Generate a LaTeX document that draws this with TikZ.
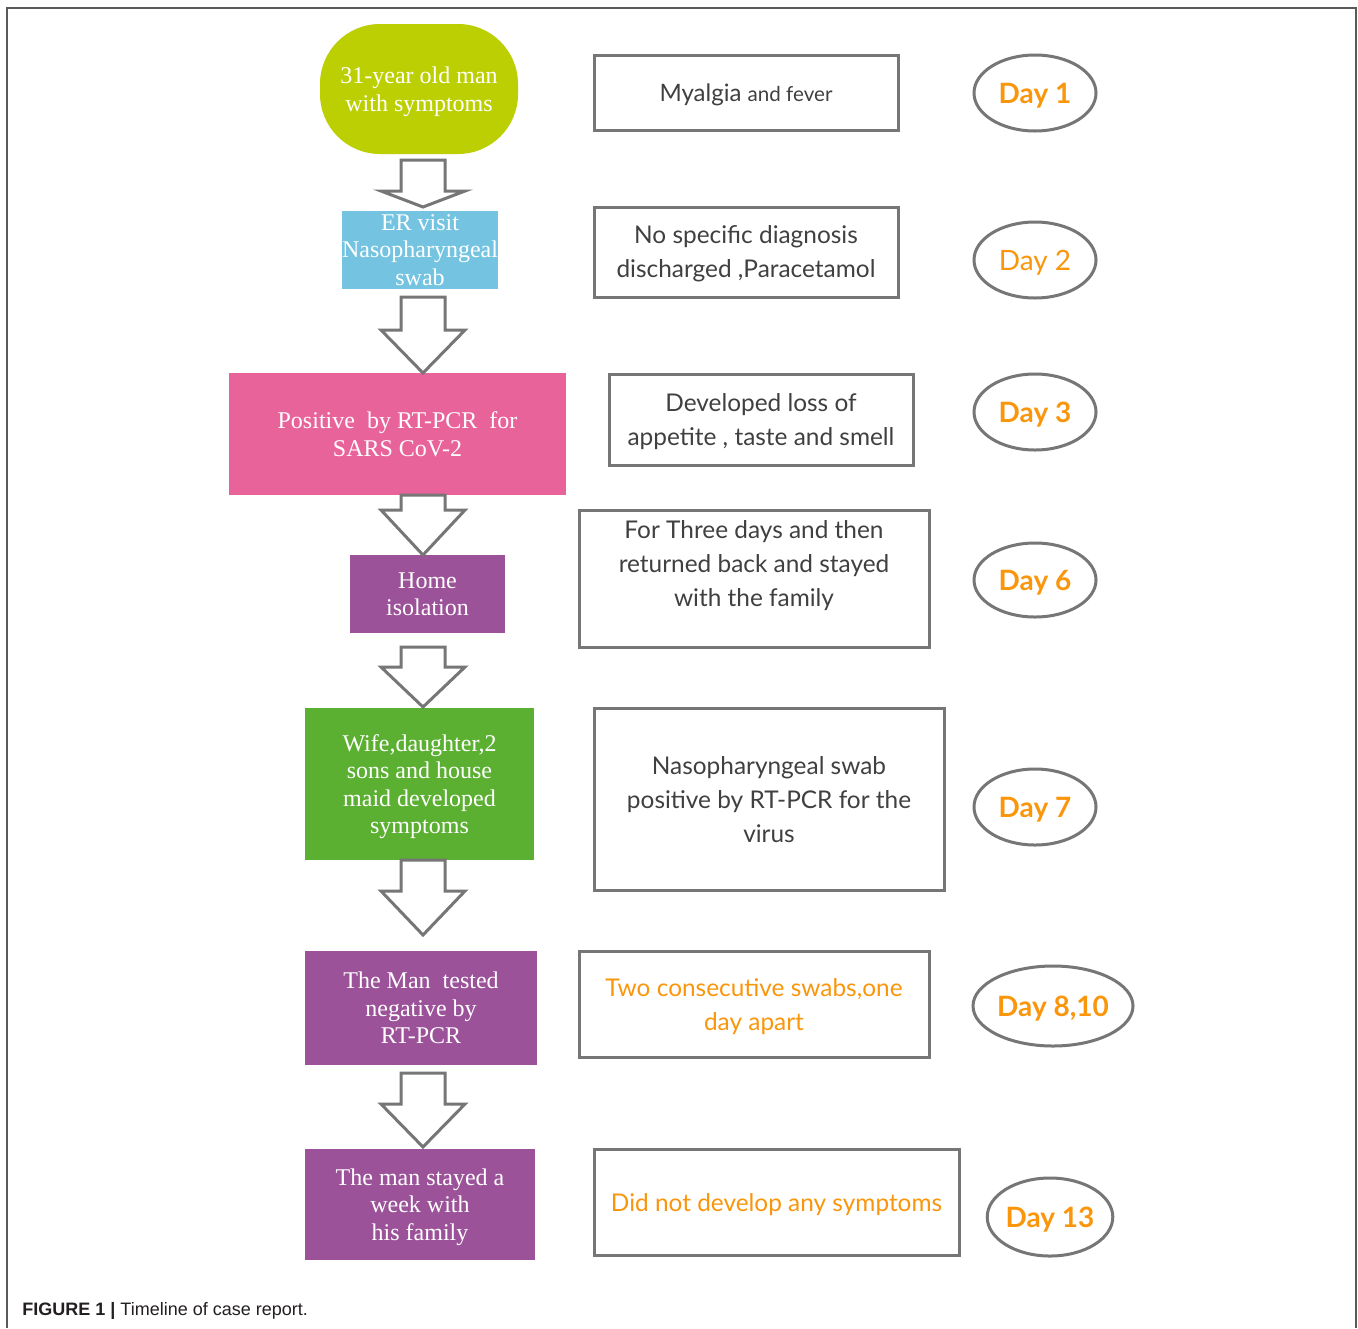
\documentclass[tikz,border=0pt]{standalone}
\usepackage{fontspec}
\setmainfont{Liberation Serif}
\newfontfamily\latof{Lato}
\newfontfamily\capf{Liberation Sans}
\usetikzlibrary{calc,shapes.geometric}
\definecolor{cLime}{RGB}{188,207,2}
\definecolor{cBlue}{RGB}{116,196,225}
\definecolor{cPink}{RGB}{233,99,155}
\definecolor{cPurple}{RGB}{155,82,153}
\definecolor{cGreen}{RGB}{91,176,50}
\definecolor{cOrange}{RGB}{250,150,12}
\definecolor{cBorder}{RGB}{118,118,118}
\definecolor{cText}{RGB}{64,64,64}
\definecolor{cFrame}{RGB}{90,90,90}
\definecolor{cCap}{RGB}{35,31,32}
% block arrow: #1 from node, #2 top gap (pt), #3 to node, #4 tip gap (pt), #5 head length (pt)
\newcommand\blockarr[5]{%
  \draw[blockarrow] let \p1=(#1.south), \p2=(#3.north), \p3=(AX) in
    (\x3-11pt,\y1-#2) -- (\x3+11pt,\y1-#2) -- (\x3+11pt,\y2+#4+#5) --
    (\x3+21pt,\y2+#4+#5) -- (\x3,\y2+#4) -- (\x3-21pt,\y2+#4+#5) --
    (\x3-11pt,\y2+#4+#5) -- cycle;}
\begin{document}
\begin{tikzpicture}[x=0.5pt,y=-0.5pt,
  lbox/.style={rectangle, inner sep=0pt, outer sep=0pt, align=center, text=white,
    font=\fontsize{12pt}{13.75pt}\selectfont},
  lowtext/.style={text depth=0pt},
  rbox/.style={rectangle, draw=cBorder, line width=1.5pt, fill=white, inner sep=0pt,
    outer sep=0pt, align=center, text=cText, text depth=0pt,
    font=\latof\fontsize{12.2pt}{17pt}\selectfont},
  rtext/.style={inner sep=0pt, align=center, text=cText, font=\latof\fontsize{12.2pt}{17pt}\selectfont},
  dayell/.style={ellipse, draw=cBorder, line width=1.5pt, fill=white, inner sep=0pt,
    outer sep=0pt, text=cOrange, text depth=0pt,
    font=\latof\bfseries\fontsize{14pt}{16pt}\selectfont},
  blockarrow/.style={draw=cBorder, line width=1.5pt, fill=white, line join=miter},
  frameline/.style={draw=cFrame, line width=1pt}]
\useasboundingbox (0,0) rectangle (1358,1328);
\fill[white] (0,0) rectangle (1358,1328);
\draw[frameline] (7,1328) -- (7,8) -- (1356,8) -- (1356,1328);
\coordinate (AX) at (423,0);

% left flow
\node[lbox, lowtext, fill=cLime, rounded corners=30pt, minimum width=99pt, minimum height=65pt] (n1) at (419,89) {31-year old man\\with symptoms};
\node[lbox, fill=cBlue, minimum width=77pt, minimum height=39pt] (n2) at (420,250) {ER visit\\Nasopharyngeal\\swab};
\node[lbox, fill=cPink, minimum width=168.5pt, minimum height=61pt] (n3) at (397.5,434) {Positive\ \ by RT-PCR\ \ for\\SARS CoV-2};
\node[lbox, lowtext, fill=cPurple, minimum width=77.5pt, minimum height=39pt] (n4) at (427.5,594) {Home\\isolation};
\node[lbox, lowtext, fill=cGreen, minimum width=114.5pt, minimum height=76pt] (n5) at (419.5,784) {Wife,daughter,2\\sons and house\\maid developed\\symptoms};
\node[lbox, lowtext, fill=cPurple, minimum width=116pt, minimum height=57pt] (n6) at (421,1008) {The Man\ \ tested\\negative by\\RT-PCR};
\node[lbox, lowtext, fill=cPurple, minimum width=115pt, minimum height=55.5pt] (n7) at (420,1204.5) {The man stayed a\\week with\\his family};

\blockarr{n1}{3pt}{n2}{2pt}{8pt}
\blockarr{n2}{4pt}{n3}{0pt}{21.5pt}
\blockarr{n3}{0pt}{n4}{0pt}{22.5pt}
\blockarr{n4}{7pt}{n5}{0.5pt}{20pt}
\blockarr{n5}{0pt}{n6}{8pt}{22pt}
\blockarr{n6}{4pt}{n7}{1pt}{21.5pt}

% middle boxes
\node[rbox, minimum width=152pt, minimum height=37.5pt] (r1) at (746,92.5) {{\fontsize{12pt}{15pt}\selectfont Myalgia} {\fontsize{10.3pt}{15pt}\selectfont and fever}};
\node[rbox, minimum width=152pt, minimum height=45pt] (r2) at (746,252) {No specific diagnosis\\discharged ,Paracetamol};
\node[rbox, minimum width=152pt, minimum height=45.5pt] (r3) at (761,419.5) {Developed loss of\\appetite , taste and smell};
\node[rbox, minimum width=175pt, minimum height=68.5pt] (r4) at (754,578.5) {};
\node[rtext] (r4t) at (754,566) {For Three days and then\\returned back and stayed\\with the family};
\node[rbox, minimum width=175pt, minimum height=91pt] (r5) at (769,799) {Nasopharyngeal swab\\positive by RT-PCR for the\\virus};
\node[rbox, minimum width=175pt, minimum height=53pt, text=cOrange] (r6) at (754,1004) {Two consecutive swabs,one\\day apart};
\node[rbox, minimum width=182.5pt, minimum height=53pt, text=cOrange] (r7) at (776.5,1202) {Did not develop any symptoms};

% day ellipses
\node[dayell, minimum width=61pt, minimum height=38pt] (d1) at (1035,93) {Day 1};
\node[dayell, minimum width=61pt, minimum height=38pt, font=\latof\fontsize{14pt}{16pt}\selectfont] (d2) at (1035,260) {Day 2};
\node[dayell, minimum width=61pt, minimum height=38pt] (d3) at (1035,412) {Day 3};
\node[dayell, minimum width=61pt, minimum height=37pt] (d4) at (1035,580) {Day 6};
\node[dayell, minimum width=61pt, minimum height=38pt] (d5) at (1035,807) {Day 7};
\node[dayell, minimum width=80pt, minimum height=40pt] (d6) at (1053,1006) {Day 8,10};
\node[dayell, minimum width=60.5pt, minimum height=39pt] (d7) at (1050,1217) {Day 13};

% caption
\node[anchor=base west, inner sep=0pt, text=cCap, font=\capf\fontsize{9pt}{11pt}\selectfont] (cap) at (22,1315) {\textbf{FIGURE 1 |} Timeline of case report.};
\end{tikzpicture}
\end{document}
